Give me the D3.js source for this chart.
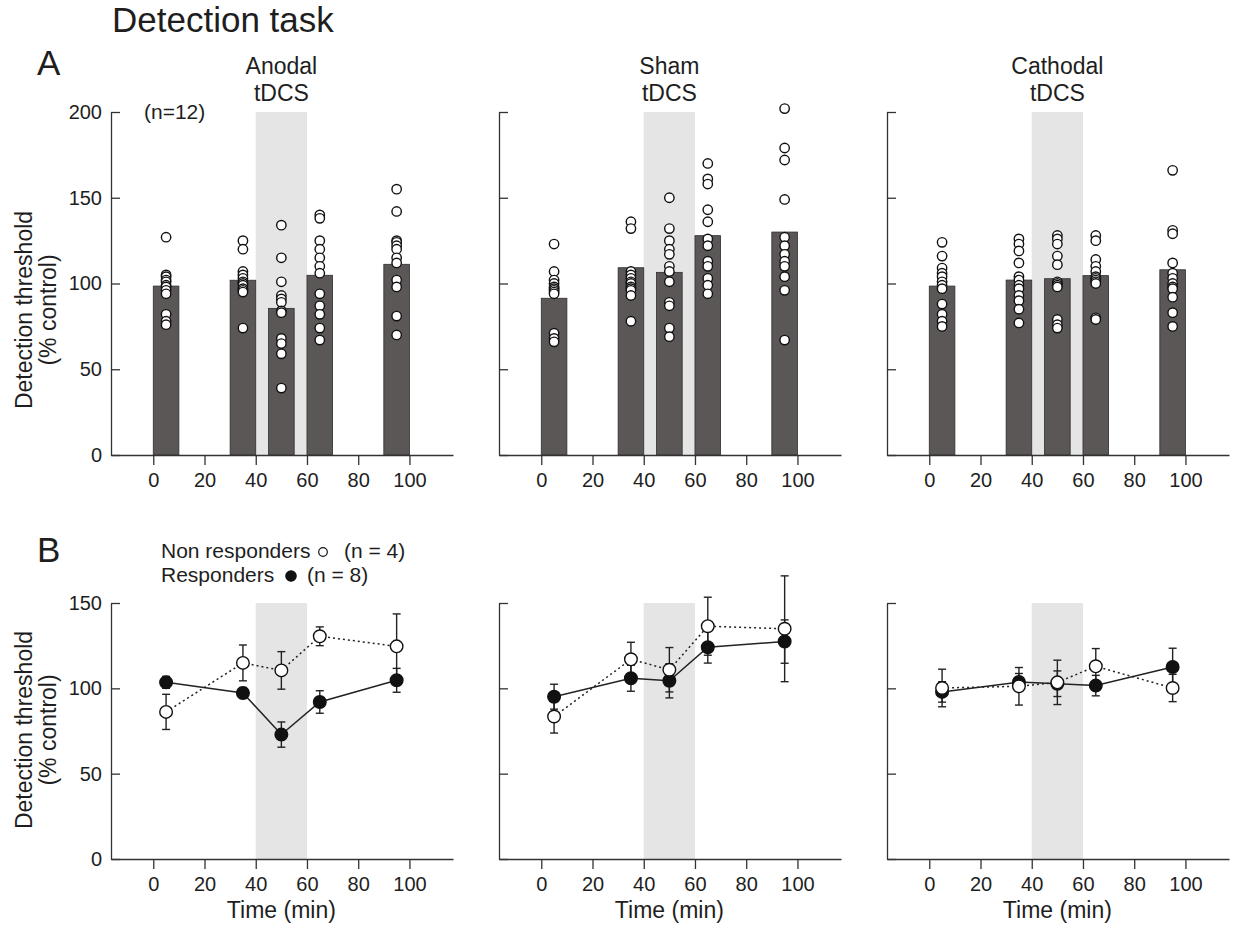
<!DOCTYPE html>
<html>
<head>
<meta charset="utf-8">
<script src="https://cdn.jsdelivr.net/npm/d3@7"></script>
<style>
  html, body { margin: 0; padding: 0; background: #fff; }
  text { font-family: "Liberation Sans", Arial, Helvetica, sans-serif; fill: #1e1e1e; }
</style>
</head>
<body>
<svg id="chart" width="1235" height="930"></svg>
<script>
// ---------------- DATA ----------------
const conditions = ["Anodal", "Sham", "Cathodal"];
const timePoints = [5, 35, 50, 65, 95];
const xTickValues = [0, 20, 40, 60, 80, 100];
const yTicksA = [0, 50, 100, 150, 200];
const yTicksB = [0, 50, 100, 150];
const stimWindow = [40, 60];

// Panel A: group means (bars)
const anodalMeans   = [98.5, 101.9, 85.5, 104.8, 111.2];
const shamMeans     = [91.4, 109.2, 106.5, 127.9, 130.0];
const cathodalMeans = [98.5, 102.0, 102.8, 104.6, 108.0];

// Panel A: individual subjects (n=12), one list per time point
const anodalSubjects = [
  [127, 105, 104, 102, 101, 99, 98, 96, 94, 82, 78, 76],
  [125, 120, 107, 105, 103, 101, 100, 99, 97, 96, 95, 74],
  [134, 115, 101, 93, 91, 89, 84, 83, 68, 65, 59, 39],
  [140, 138, 125, 120, 115, 110, 106, 94, 87, 82, 74, 67],
  [155, 142, 125, 124, 122, 120, 115, 112, 102, 98, 81, 70]
];
const shamSubjects = [
  [123, 107, 102, 100, 98, 97, 96, 95, 94, 71, 68, 66],
  [136, 132, 107, 105, 103, 101, 100, 98, 97, 96, 93, 78],
  [150, 132, 125, 120, 117, 110, 107, 101, 89, 87, 74, 69],
  [170, 161, 158, 143, 136, 126, 122, 113, 110, 103, 99, 94],
  [202, 179, 172, 149, 127, 122, 117, 113, 110, 104, 96, 67]
];
const cathodalSubjects = [
  [124, 116, 109, 106, 104, 101, 99, 97, 88, 82, 78, 75],
  [126, 123, 119, 112, 104, 102, 99, 97, 93, 90, 85, 77],
  [128, 126, 123, 116, 111, 101, 100, 99, 98, 79, 76, 74],
  [128, 125, 114, 110, 107, 104, 103, 102, 101, 100, 80, 79],
  [166, 131, 129, 112, 106, 103, 100, 98, 97, 92, 83, 75]
];

// Panel B: responders (filled) and non responders (open), mean and error
const anodalResp      = [103.5, 97.3, 72.9, 92.0, 104.7];
const anodalRespErr   = [3.5, 3.2, 7.4, 6.6, 7.0];
const anodalNon       = [86.2, 114.9, 110.5, 130.5, 124.6];
const anodalNonErr    = [10.3, 10.5, 11.0, 5.5, 19.0];
const shamResp        = [95.1, 105.9, 104.4, 124.1, 127.4];
const shamRespErr     = [7.3, 7.6, 10.0, 9.3, 12.7];
const shamNon         = [83.5, 117.0, 110.9, 136.4, 134.9];
const shamNonErr      = [9.7, 10.0, 13.0, 17.0, 31.0];
const cathodalResp    = [97.9, 103.7, 102.7, 101.6, 112.5];
const cathodalRespErr = [6.0, 5.0, 7.5, 6.0, 11.0];
const cathodalNon     = [100.2, 101.2, 103.5, 112.9, 100.2];
const cathodalNonErr  = [11.0, 11.0, 13.0, 10.4, 8.0];

// ---------------- LAYOUT ----------------
const svg = d3.select("#chart");
const panelLeft = [111, 499, 887];
const panelW = 342;
const topA = 112, hA = 343;
const topB = 603, hB = 256;
const axisColor = "#333";

const x = d3.scaleLinear().domain([-16.5, 117]).range([0, panelW]);
const yA = d3.scaleLinear().domain([0, 200]).range([hA, 0]);
const yB = d3.scaleLinear().domain([0, 150]).range([hB, 0]);

const meansList = [anodalMeans, shamMeans, cathodalMeans];
const subjList = [anodalSubjects, shamSubjects, cathodalSubjects];
const respList = [anodalResp, shamResp, cathodalResp];
const respErrList = [anodalRespErr, shamRespErr, cathodalRespErr];
const nonList = [anodalNon, shamNon, cathodalNon];
const nonErrList = [anodalNonErr, shamNonErr, cathodalNonErr];

// Title and panel letters
svg.append("text").attr("x", 112).attr("y", 32).style("font-size", "35px").text("Detection task");
svg.append("text").attr("x", 37).attr("y", 75).style("font-size", "35px").text("A");
svg.append("text").attr("x", 37).attr("y", 562).style("font-size", "35px").text("B");

function styleAxis(g) {
  g.selectAll("path.domain").attr("stroke", axisColor).attr("stroke-width", 1.3);
  g.selectAll(".tick line").attr("stroke", axisColor).attr("stroke-width", 1.3);
  g.selectAll(".tick text").style("font-size", "20px").attr("fill", "#1e1e1e")
    .style("font-family", "'Liberation Sans', Arial, sans-serif");
}

function drawAxes(g, y, yTicks, h, showYLabels) {
  const gx = g.append("g").attr("transform", `translate(0,${h})`)
    .call(d3.axisBottom(x).tickValues(xTickValues).tickSizeInner(10).tickSizeOuter(0).tickPadding(8));
  styleAxis(gx);
  const gy = g.append("g")
    .call(d3.axisLeft(y).tickValues(yTicks).tickSizeInner(-9).tickSizeOuter(0).tickPadding(9));
  styleAxis(gy);
  if (!showYLabels) gy.selectAll(".tick text").remove();
}

conditions.forEach((cond, i) => {
  // ---------- Panel A ----------
  const gA = svg.append("g").attr("transform", `translate(${panelLeft[i]},${topA})`);
  gA.append("rect")
    .attr("x", x(stimWindow[0])).attr("width", x(stimWindow[1]) - x(stimWindow[0]))
    .attr("y", yA(200)).attr("height", yA(0) - yA(200))
    .attr("fill", "#e5e5e5");

  gA.selectAll("rect.bar").data(meansList[i]).join("rect")
    .attr("class", "bar")
    .attr("x", (d, k) => x(timePoints[k] - 5))
    .attr("width", (d, k) => x(timePoints[k] + 5) - x(timePoints[k] - 5))
    .attr("y", d => yA(d))
    .attr("height", d => yA(0) - yA(d))
    .attr("fill", "#5b5757").attr("stroke", "#2f2d2d").attr("stroke-width", 0.8);

  drawAxes(gA, yA, yTicksA, hA, i === 0);

  const pts = [];
  subjList[i].forEach((arr, k) => arr.forEach(v => pts.push({ t: timePoints[k], v })));
  gA.selectAll("circle.subj").data(pts).join("circle")
    .attr("class", "subj")
    .attr("cx", d => x(d.t)).attr("cy", d => yA(d.v)).attr("r", 4.7)
    .attr("fill", "#fff").attr("stroke", "#111").attr("stroke-width", 1.4);

  // condition title
  const tt = gA.append("text").attr("text-anchor", "middle").style("font-size", "23px");
  tt.append("tspan").attr("x", x(50)).attr("y", 74 - topA).text(cond);
  tt.append("tspan").attr("x", x(50)).attr("y", 101 - topA).text("tDCS");

  // ---------- Panel B ----------
  const gB = svg.append("g").attr("transform", `translate(${panelLeft[i]},${topB})`);
  gB.append("rect")
    .attr("x", x(stimWindow[0])).attr("width", x(stimWindow[1]) - x(stimWindow[0]))
    .attr("y", yB(150)).attr("height", yB(0) - yB(150))
    .attr("fill", "#e5e5e5");

  drawAxes(gB, yB, yTicksB, hB, i === 0);

  const series = [
    { vals: respList[i], errs: respErrList[i], filled: true },
    { vals: nonList[i], errs: nonErrList[i], filled: false }
  ];

  // error bars
  series.forEach(s => {
    const eg = gB.append("g").attr("stroke", "#222").attr("stroke-width", 1.4);
    s.vals.forEach((v, k) => {
      const cx = x(timePoints[k]);
      const y1 = yB(v + s.errs[k]), y2 = yB(v - s.errs[k]);
      eg.append("line").attr("x1", cx).attr("x2", cx).attr("y1", y1).attr("y2", y2);
      eg.append("line").attr("x1", cx - 4).attr("x2", cx + 4).attr("y1", y1).attr("y2", y1);
      eg.append("line").attr("x1", cx - 4).attr("x2", cx + 4).attr("y1", y2).attr("y2", y2);
    });
  });

  const line = d3.line().x((d, k) => x(timePoints[k])).y(d => yB(d));
  gB.append("path").datum(respList[i]).attr("d", line)
    .attr("fill", "none").attr("stroke", "#222").attr("stroke-width", 1.5);
  gB.append("path").datum(nonList[i]).attr("d", line)
    .attr("fill", "none").attr("stroke", "#222").attr("stroke-width", 1.5)
    .attr("stroke-dasharray", "2,3");

  series.forEach(s => {
    gB.selectAll(null).data(s.vals).join("circle")
      .attr("cx", (d, k) => x(timePoints[k])).attr("cy", d => yB(d)).attr("r", 6.3)
      .attr("fill", s.filled ? "#111" : "#fff")
      .attr("stroke", "#111").attr("stroke-width", 1.4);
  });

  gB.append("text").attr("x", x(50)).attr("y", 918 - topB)
    .attr("text-anchor", "middle").style("font-size", "23px").text("Time (min)");
});

// Y-axis titles
function yTitle(cy) {
  const g = svg.append("g");
  g.append("text").attr("transform", `translate(32,${cy}) rotate(-90)`)
    .attr("text-anchor", "middle").style("font-size", "23px").text("Detection threshold");
  g.append("text").attr("transform", `translate(56,${cy}) rotate(-90)`)
    .attr("text-anchor", "middle").style("font-size", "23px").text("(% control)");
}
yTitle(310);
yTitle(730);

// (n=12)
svg.append("text").attr("x", 144).attr("y", 119).style("font-size", "21px").text("(n=12)");

// Legend for panel B
const legendRows = [
  { label: "Non responders", cx: 323, cy: 552, r: 4.3, filled: false, n: "(n = 4)", nx: 344, y: 558 },
  { label: "Responders", cx: 291, cy: 576, r: 5.2, filled: true, n: "(n = 8)", nx: 307, y: 582 }
];
legendRows.forEach(d => {
  svg.append("text").attr("x", 161).attr("y", d.y).style("font-size", "21px").text(d.label);
  svg.append("circle").attr("cx", d.cx).attr("cy", d.cy).attr("r", d.r)
    .attr("fill", d.filled ? "#111" : "#fff").attr("stroke", "#111").attr("stroke-width", 1.2);
  svg.append("text").attr("x", d.nx).attr("y", d.y).style("font-size", "21px").text(d.n);
});
</script>
</body>
</html>
